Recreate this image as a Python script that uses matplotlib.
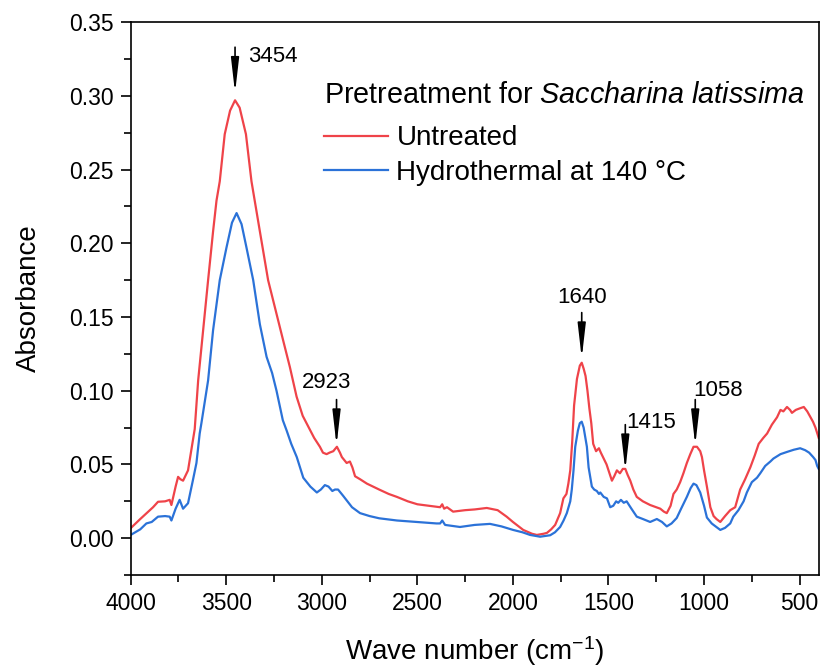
import matplotlib
matplotlib.use("Agg")
import matplotlib.pyplot as plt
from matplotlib.ticker import MultipleLocator

plt.rcParams["font.family"] = ["Liberation Sans", "DejaVu Sans"]
plt.rcParams["mathtext.fontset"] = "custom"
plt.rcParams["mathtext.rm"] = "Liberation Sans"
plt.rcParams["mathtext.it"] = "Liberation Sans:italic"

# FTIR spectrum, untreated sample
wn_untreated = [4000, 3950, 3900, 3883, 3857, 3820, 3796, 3787, 3765, 3752, 3740, 3726,
                3700, 3685, 3665, 3647, 3621, 3595, 3569, 3551, 3534, 3508, 3480, 3454,
                3430, 3397, 3368, 3351, 3324, 3281, 3237, 3202, 3167, 3132, 3100, 3080,
                3040, 3010, 2994, 2975, 2960, 2940, 2921, 2905, 2895, 2870, 2853, 2840,
                2826, 2800, 2764, 2700, 2650, 2607, 2550, 2500, 2440, 2381, 2370, 2360,
                2345, 2313, 2250, 2200, 2137, 2080, 2033, 2000, 1946, 1900, 1875, 1840,
                1822, 1800, 1779, 1753, 1736, 1720, 1710, 1700, 1690, 1680, 1665, 1650,
                1640, 1630, 1620, 1610, 1600, 1590, 1580, 1565, 1550, 1540, 1525, 1510,
                1495, 1482, 1470, 1456, 1440, 1425, 1412, 1400, 1386, 1370, 1352, 1320,
                1282, 1250, 1229, 1210, 1195, 1175, 1160, 1143, 1125, 1108, 1090, 1072,
                1055, 1037, 1020, 1011, 1000, 985, 967, 950, 935, 915, 890, 863, 837,
                811, 785, 758, 735, 714, 690, 670, 645, 618, 600, 585, 566, 550, 540,
                520, 500, 478, 460, 443, 430, 417, 405, 400]
abs_untreated = [0.0068, 0.013, 0.019, 0.021, 0.0247, 0.025, 0.026, 0.0225, 0.035, 0.0416, 0.040, 0.039,
                 0.046, 0.058, 0.074, 0.107, 0.141, 0.175, 0.208, 0.229, 0.242, 0.274, 0.290, 0.297,
                 0.292, 0.274, 0.242, 0.229, 0.208, 0.175, 0.152, 0.134, 0.116, 0.096, 0.083, 0.078,
                 0.068, 0.062, 0.058, 0.057, 0.058, 0.059, 0.062, 0.058, 0.055, 0.051, 0.052, 0.048,
                 0.042, 0.040, 0.037, 0.033, 0.030, 0.028, 0.025, 0.023, 0.022, 0.021, 0.023, 0.020,
                 0.021, 0.018, 0.019, 0.0195, 0.0205, 0.019, 0.0146, 0.011, 0.0056, 0.003, 0.0022, 0.003,
                 0.0036, 0.006, 0.009, 0.017, 0.027, 0.030, 0.037, 0.046, 0.065, 0.090, 0.108, 0.117,
                 0.119, 0.115, 0.110, 0.100, 0.088, 0.078, 0.064, 0.059, 0.061, 0.058, 0.054, 0.050,
                 0.044, 0.039, 0.042, 0.046, 0.044, 0.047, 0.047, 0.043, 0.039, 0.033, 0.028, 0.025,
                 0.0225, 0.021, 0.020, 0.018, 0.017, 0.022, 0.030, 0.033, 0.038, 0.044, 0.051, 0.057,
                 0.062, 0.062, 0.059, 0.055, 0.046, 0.035, 0.021, 0.015, 0.013, 0.011, 0.015, 0.019, 0.021,
                 0.033, 0.040, 0.048, 0.056, 0.064, 0.068, 0.071, 0.077, 0.082, 0.087, 0.086, 0.089, 0.087, 0.085,
                 0.087, 0.088, 0.089, 0.086, 0.082, 0.079, 0.075, 0.070, 0.068]

# FTIR spectrum, hydrothermal pretreatment at 140 C
wn_hydro = [4000, 3950, 3918, 3890, 3857, 3820, 3796, 3787, 3765, 3744, 3726, 3700,
            3675, 3656, 3639, 3630, 3595, 3569, 3534, 3499, 3470, 3446, 3420, 3394,
            3359, 3324, 3289, 3260, 3237, 3204, 3184, 3160, 3131, 3097, 3060, 3026,
            3005, 2984, 2965, 2945, 2931, 2915, 2890, 2860, 2842, 2800, 2750, 2700,
            2607, 2500, 2400, 2381, 2370, 2355, 2277, 2200, 2120, 2060, 1999, 1950,
            1910, 1858, 1805, 1780, 1753, 1735, 1718, 1700, 1692, 1683, 1674, 1660,
            1650, 1640, 1630, 1613, 1604, 1596, 1587, 1575, 1561, 1550, 1543, 1525,
            1508, 1491, 1475, 1460, 1449, 1435, 1420, 1405, 1380, 1352, 1320, 1282,
            1247, 1220, 1195, 1170, 1143, 1120, 1090, 1070, 1055, 1040, 1020, 1000,
            985, 960, 950, 915, 890, 863, 847, 820, 793, 776, 750, 723, 706, 680,
            653, 637, 600, 566, 530, 497, 471, 450, 429, 417, 408, 400]
abs_hydro = [0.0022, 0.006, 0.010, 0.011, 0.0146, 0.015, 0.0146, 0.012, 0.020, 0.026, 0.020, 0.0237,
             0.039, 0.051, 0.071, 0.078, 0.107, 0.141, 0.175, 0.197, 0.214, 0.2205, 0.213, 0.197,
             0.175, 0.145, 0.123, 0.112, 0.100, 0.080, 0.073, 0.064, 0.055, 0.041, 0.035, 0.031,
             0.033, 0.036, 0.035, 0.032, 0.033, 0.033, 0.029, 0.024, 0.021, 0.017, 0.015, 0.0135,
             0.012, 0.011, 0.010, 0.010, 0.012, 0.009, 0.0076, 0.009, 0.0097, 0.008, 0.0056, 0.004,
             0.0022, 0.001, 0.002, 0.004, 0.0076, 0.012, 0.017, 0.025, 0.033, 0.046, 0.062, 0.073,
             0.078, 0.079, 0.075, 0.062, 0.048, 0.042, 0.035, 0.033, 0.032, 0.030, 0.031, 0.028,
             0.027, 0.021, 0.022, 0.025, 0.024, 0.026, 0.024, 0.025, 0.020, 0.0146, 0.013, 0.011,
             0.013, 0.011, 0.008, 0.010, 0.0137, 0.020, 0.028, 0.034, 0.037, 0.036, 0.031, 0.022,
             0.014, 0.010, 0.009, 0.0056, 0.007, 0.010, 0.0146, 0.019, 0.025, 0.031, 0.038, 0.041, 0.044, 0.049,
             0.052, 0.054, 0.057, 0.0585, 0.060, 0.061, 0.0597, 0.058, 0.055, 0.053, 0.049, 0.047]

# labelled bands: arrow tip value and label position
peak_labels = ["3454", "2923", "1640", "1415", "1058"]
peak_wn = [3454, 2923, 1640, 1412, 1046]
peak_tip = [0.302, 0.063, 0.122, 0.046, 0.063]
label_wn = [3387, 2973, 1638, 1407, 1056]
label_abs = [0.327, 0.1057, 0.163, 0.0786, 0.100]
label_ha = ["left", "center", "center", "left", "left"]

fig = plt.figure(figsize=(8.22, 6.71), dpi=100)
ax = fig.add_axes([0.159, 0.143, 0.837, 0.824])

ax.plot(wn_untreated, abs_untreated, color="#EF4349", lw=1.6, label="Untreated")
ax.plot(wn_hydro, abs_hydro, color="#2B72D8", lw=1.6, label="Hydrothermal at 140 °C")

for i in range(len(peak_labels)):
    ax.annotate("", xy=(peak_wn[i], peak_tip[i]), xytext=(peak_wn[i], peak_tip[i] + 0.031),
                arrowprops=dict(arrowstyle="-|>,head_length=1.3,head_width=0.15",
                                color="black", lw=1.2, shrinkA=0, shrinkB=0),
                fontsize=16)
    ax.text(label_wn[i], label_abs[i], peak_labels[i], fontsize=16,
            ha=label_ha[i], va="center")

ax.set_xlim(4000, 400)
ax.set_ylim(-0.025, 0.35)
ax.xaxis.set_major_locator(MultipleLocator(500))
ax.xaxis.set_minor_locator(MultipleLocator(250))
ax.yaxis.set_major_locator(MultipleLocator(0.05))
ax.yaxis.set_minor_locator(MultipleLocator(0.025))
ax.yaxis.set_major_formatter(plt.FormatStrFormatter("%.2f"))
ax.tick_params(which="both", direction="out", width=1.2, labelsize=16.5, pad=5)
ax.tick_params(which="major", length=7)
ax.tick_params(which="minor", length=5)
for s in ax.spines.values():
    s.set_linewidth(1.2)

ax.set_xlabel("Wave number (cm$^{-1}$)", fontsize=20, labelpad=14)
ax.set_ylabel("Absorbance", fontsize=20, labelpad=20)

leg = ax.legend(title="Pretreatment for $\\it{Saccharina\\ latissima}$",
                frameon=False, fontsize=20, title_fontsize=20.7,
                loc="upper left", bbox_to_anchor=(0.261, 0.919),
                handlelength=2.3, handletextpad=0.3, borderpad=0,
                labelspacing=0.31, alignment="left")
leg._legend_box.sep = 12

fig.savefig("out.png", dpi=100)
